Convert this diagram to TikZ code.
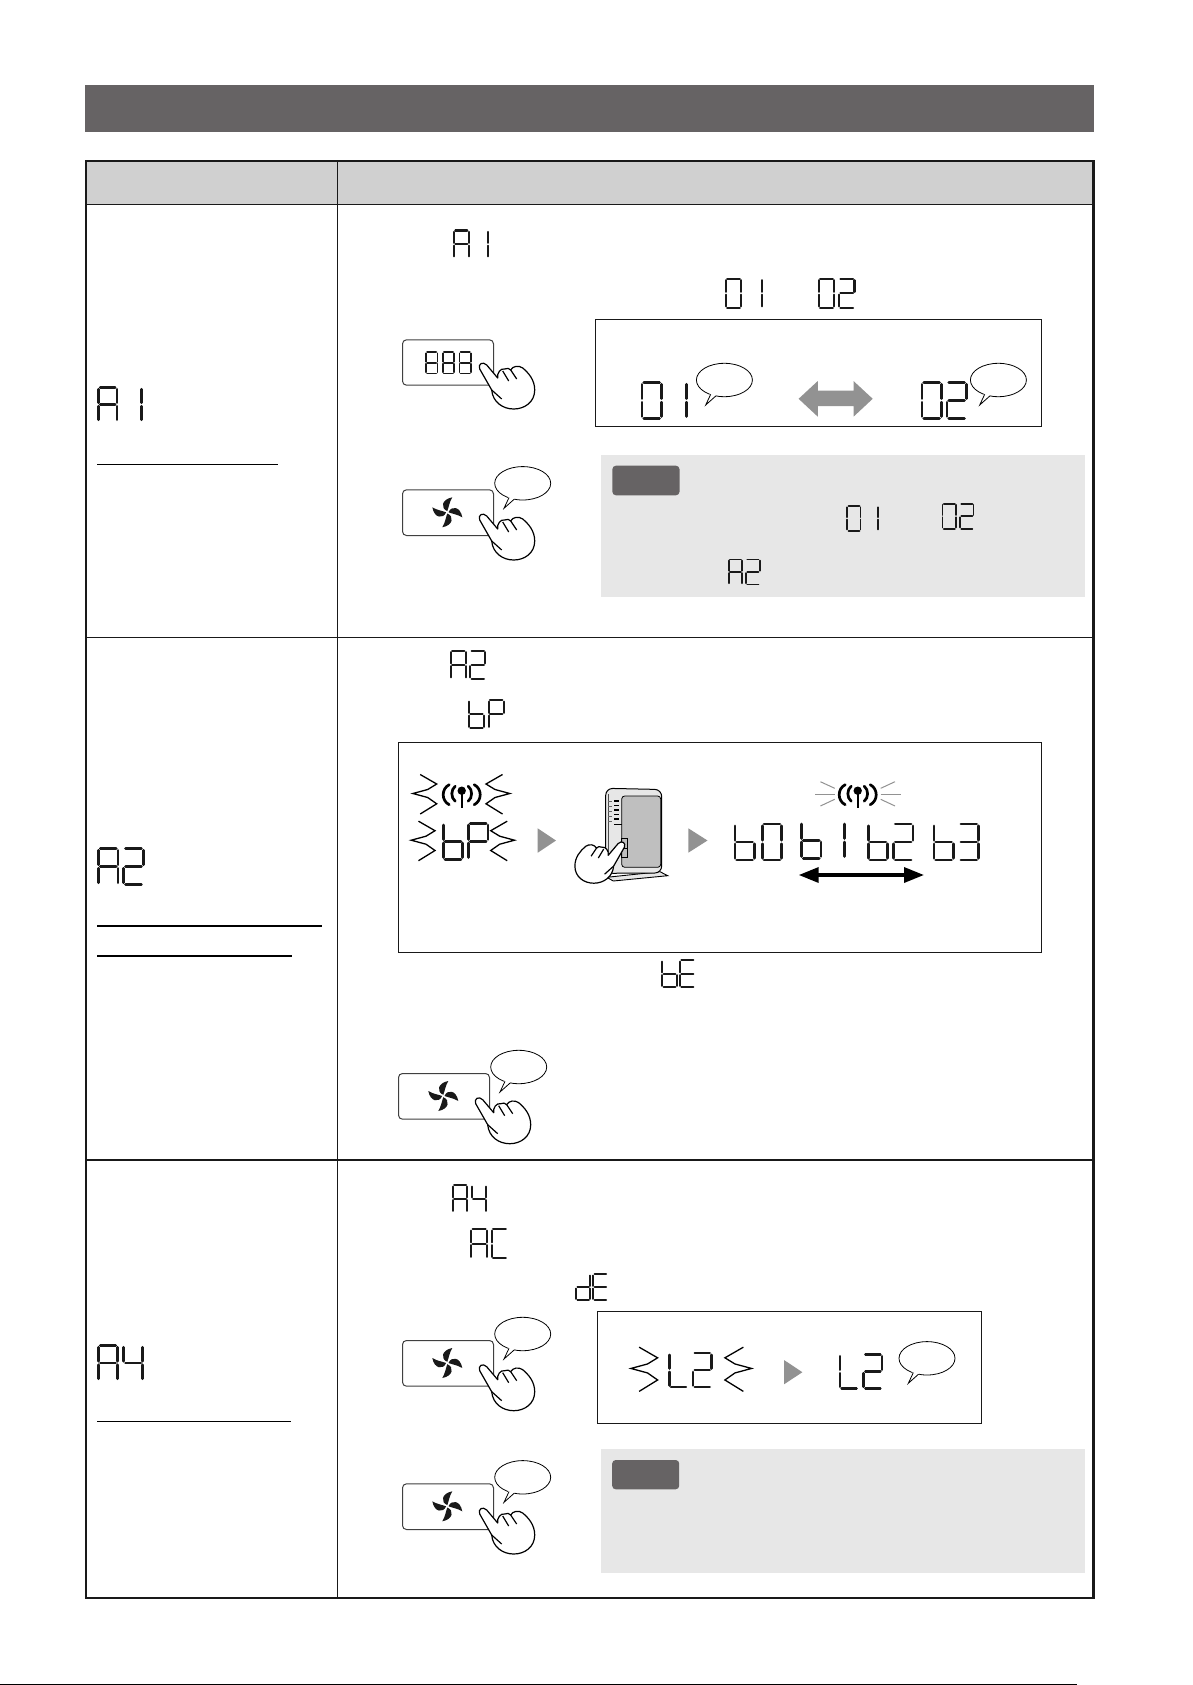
\documentclass[tikz,border=0pt]{standalone}
\usepackage{tikz}
\usetikzlibrary{arrows.meta,shapes.geometric}

% seven segment read-out, height in px
\newcommand{\lcdsa}{\draw (0.05,1) -- (0.49,1);}
\newcommand{\lcdsb}{\draw (0.54,0.95) -- (0.54,0.55);}
\newcommand{\lcdsc}{\draw (0.54,0.45) -- (0.54,0.05);}
\newcommand{\lcdsd}{\draw (0.05,0) -- (0.49,0);}
\newcommand{\lcdse}{\draw (0,0.45) -- (0,0.05);}
\newcommand{\lcdsf}{\draw (0,0.95) -- (0,0.55);}
\newcommand{\lcdsg}{\draw (0.05,0.5) -- (0.49,0.5);}
\expandafter\def\csname lcdchar0\endcsname{\lcdsa\lcdsb\lcdsc\lcdsd\lcdse\lcdsf}
\expandafter\def\csname lcdchar1\endcsname{\lcdsb\lcdsc}
\expandafter\def\csname lcdchar2\endcsname{\lcdsa\lcdsb\lcdsd\lcdse\lcdsg}
\expandafter\def\csname lcdchar3\endcsname{\lcdsa\lcdsb\lcdsc\lcdsd\lcdsg}
\expandafter\def\csname lcdchar4\endcsname{\lcdsb\lcdsc\lcdsf\lcdsg}
\expandafter\def\csname lcdchar8\endcsname{\lcdsa\lcdsb\lcdsc\lcdsd\lcdse\lcdsf\lcdsg}
\expandafter\def\csname lcdcharA\endcsname{\lcdsa\lcdsb\lcdsc\lcdse\lcdsf\lcdsg}
\expandafter\def\csname lcdcharC\endcsname{\lcdsa\lcdsd\lcdse\lcdsf}
\expandafter\def\csname lcdcharE\endcsname{\lcdsa\lcdsd\lcdse\lcdsf\lcdsg}
\expandafter\def\csname lcdcharL\endcsname{\lcdsd\lcdse\lcdsf}
\expandafter\def\csname lcdcharP\endcsname{\lcdsa\lcdsb\lcdse\lcdsf\lcdsg}
\expandafter\def\csname lcdcharb\endcsname{\lcdsc\lcdsd\lcdse\lcdsf\lcdsg}
\expandafter\def\csname lcdchard\endcsname{\lcdsb\lcdsc\lcdsd\lcdse\lcdsg}
\makeatletter
\newcommand{\lcd}[3][0.7]{\tikz[x=#2pt,y=#2pt,line width=0.075*#2pt,line cap=round,black!90]{%
	\def\lcdx{0}%
	\@tfor\lcdc:=#3\do{%
		\begin{scope}[xshift=\lcdx*#2pt]\csname lcdchar\lcdc\endcsname\end{scope}%
		\pgfmathsetmacro\lcdx{\lcdx+#1}%
	}}}
\makeatother

\definecolor{barcol}{HTML}{666364}
\definecolor{headcol}{HTML}{D0D0D0}
\definecolor{notecol}{HTML}{E7E7E7}
\definecolor{arrowcol}{HTML}{929292}

\tikzset{
	pics/hand/.style={code={
		\draw [line width=1.2pt, fill=white, line join=round] (-3,5) .. controls (-5,0) and (0,-3) .. (4,1) -- (15,14) .. controls (14,9) and (18,4) .. (22,5) .. controls (24,4) and (27,4) .. (28,6) .. controls (30,2) and (36,1) .. (40,4) .. controls (46,9) and (52,16) .. (52,26) .. controls (52,38) and (42,45) .. (31,45) .. controls (20,45) and (10,38) .. (9,26) -- cycle;
		\draw [line width=1.2pt] (20,7) -- (26,17);
		\draw [line width=1.2pt] (28,6) -- (34,15);
		\draw [line width=1.2pt] (9,26) -- (19,35);
	}},
	pics/bubble/.style={code={
		\node (-oval) [ellipse, draw, line width=.8pt, fill=white, inner sep=0pt, minimum width=56pt, minimum height=33.4pt] at (0,0) {};
		\fill [white] (-7.5,14.5) -- (-18.7,25) -- (-14,13) -- cycle;
		\draw [line width=.8pt] (-8.6,16) -- (-18.7,25) -- (-13.7,14.3);
	}},
	pics/fanpress/.style={code={
		\node (-box) [draw=black!75, line width=1pt, rounded corners=4pt, anchor=north west, inner sep=0pt, minimum width=91pt, minimum height=45.7pt] at (0,0) {};
		\foreach \a in {0,90,180,270}
			\fill [shift={(45.3,23)}, rotate=\a, black!90] (0,-1.2) .. controls (-7,-4) and (-6,-13) .. (5,-15) .. controls (2,-10) and (1.5,-5) .. (0,-1.2);
		\pic at (120.7,-6) {bubble};
		\pic at (80.7,25.7) {hand};
	}},
	pics/antenna/.style={code={
		\fill (0,0) circle (4.2);
		\draw [line width=2.4pt] (0,0) -- (0,17.6);
		\foreach \s in {-1,1} {
			\draw [line width=2.7pt, line cap=round] (\s*12.5,-6) .. controls (\s*20.5,-2) and (\s*20.5,10) .. (\s*12.5,14);
			\draw [line width=2.7pt, line cap=round] (\s*6.5,-4.5) .. controls (\s*11,-1) and (\s*11,7) .. (\s*6.5,10.5);
		}
	}},
	pics/burst/.style={code={
		\draw [line width=1.3pt, line join=miter, miter limit=20] (-16.5,-19.5) -- (0,-10) -- (-9,-4.5) -- (-23.8,-0.5) -- (-9,3.5) -- (0,9.8) -- (-16.5,20);
	}},
	pics/glint/.style={code={
		\draw [line width=1pt, arrowcol] (0,0) -- (-20,0);
		\draw [line width=1pt, arrowcol] (0,-5.7) -- (-14.3,-12.3);
		\draw [line width=1pt, arrowcol] (0,5.3) -- (-14.3,12);
	}}
}

\begin{document}
\begin{tikzpicture}[x=1pt,y=-1pt]
	\tikzstyle{lcdtext} = [inner sep=0pt, anchor=north west];
	\tikzstyle{thinbox} = [draw=black!90, line width=1pt];
	\tikzstyle{rowline} = [draw=black!90, line width=1.1pt];
	\tikzstyle{uline} = [draw=black, line width=1.1pt];
	\tikzstyle{gotri} = [fill=arrowcol];
	\tikzstyle{notetag} = [fill=barcol, rounded corners=3.5pt];
	\useasboundingbox (0,0) rectangle (1192,1685);
	\fill [white] (0,0) rectangle (1192,1685);

	% title bar and table
	\fill [barcol] (85,85) rectangle (1094,131.7);
	\fill [headcol] (86,160.7) rectangle (1093.4,204.3);
	\draw [rowline] (86,204.3) -- (1093.4,204.3);
	\draw [rowline] (86,637.5) -- (1093.4,637.5);
	\draw [rowline] (86,1160) -- (1093.4,1160);
	\draw [rowline] (337.4,160.7) -- (337.4,1597.7);
	\draw [line width=2.2pt, draw=black!90] (86,160.7) rectangle (1093.4,1597.7);
	\draw [line width=1.5pt] (0,1684.3) -- (1077,1684.3);

	% left column
	\node (bigone) [lcdtext] at (97,386) {\lcd[0.72]{34}{A1}};
	\node (bigtwo) [lcdtext] at (97,847) {\lcd{36}{A2}};
	\node (bigfour) [lcdtext] at (97,1344) {\lcd[0.72]{35}{A4}};
	\draw [uline] (97,464.5) -- (278,464.5);
	\draw [uline] (97,926) -- (321.5,926);
	\draw [uline] (97,956) -- (292,956);
	\draw [uline] (97,1421.5) -- (291,1421.5);

	% first row
	\node (lineone) [lcdtext] at (452.7,229.3) {\lcd[0.7]{27.3}{A1}};
	\node (linezero) [lcdtext] at (724.4,277.5) {\lcd{29}{01}};
	\node (linetwo) [lcdtext] at (817.3,277.5) {\lcd{29}{02}};
	\node (numbtn) [draw=black!75, line width=1pt, rounded corners=4pt, anchor=north west, inner sep=0pt, minimum width=91pt, minimum height=45.4pt] at (402,339.3) {};
	\node (numtext) [lcdtext] at (425,351.3) {\lcd[0.8]{21}{888}};
	\pic at (482.7,364) {hand};
	\pic (fanone) at (402,489.3) {fanpress};
	\draw [thinbox] (595.2,319.3) rectangle (1041.7,426.7);
	\node (showone) [lcdtext] at (640.5,381) {\lcd{35.7}{01}};
	\node (showtwo) [lcdtext] at (920.4,381) {\lcd{35.7}{02}};
	\pic at (724.4,380) {bubble};
	\pic at (998.4,380) {bubble};
	\fill [arrowcol] (798.6,398.8) -- (817.8,381) -- (817.8,390.7) -- (853.5,390.7) -- (853.5,381) -- (872.7,398.8) -- (853.5,416.7) -- (853.5,406) -- (817.8,406) -- (817.8,416.7) -- cycle;
	\fill [notecol] (601,455) rectangle (1084.7,596.7);
	\fill [notetag] (612.4,465.7) rectangle (679.5,495.3);
	\node (noteone) [lcdtext] at (846.2,505) {\lcd{24.5}{01}};
	\node (notetwo) [lcdtext] at (941.4,502.5) {\lcd{25}{02}};
	\node (noteA) [lcdtext] at (727.5,558.3) {\lcd{25}{A2}};

	% second row
	\node (linewifi) [lcdtext] at (449.4,649.5) {\lcd{28}{A2}};
	\node (linebp) [lcdtext] at (467.7,699) {\lcd{28}{bP}};
	\draw [thinbox] (398.6,742.7) rectangle (1041.8,952.3);
	\pic at (461.7,790.7) {antenna};
	\pic at (436.7,794) {burst};
	\pic [xscale=-1] at (486,794) {burst};
	\node (pairbp) [lcdtext] at (441.7,821.7) {\lcd{36}{bP}};
	\pic at (435,840.7) {burst};
	\pic [xscale=-1] at (490.7,840.7) {burst};
	\fill [gotri] (537.7,828.3) -- (556,840.5) -- (537.7,852.7) -- cycle;
	\fill [gotri] (688.3,828.3) -- (707.5,840.5) -- (688.3,852.7) -- cycle;
	% router
	\draw [line width=.9pt, fill=notecol] (606.7,877.3) -- (660,871.7) -- (667.7,875.7) -- (613.3,881) -- cycle;
	\draw [line width=1pt, fill=notecol, rounded corners=7pt] (605.7,873.3) -- (605.7,788.3) -- (661.7,789.5) -- (661.7,873) -- cycle;
	\draw [line width=.6pt, black!70] (608.3,794) -- (608.3,870);
	\draw [line width=.8pt, fill=black!25, rounded corners=3pt] (621.7,796) rectangle (660.7,867.3);
	\foreach \y in {801,805.7,810,814.3,819} \draw [line width=1.4pt] (614,\y) -- (619.3,\y);
	\draw [line width=1.6pt] (614,824.3) -- (621.7,824.3);
	\foreach \y in {801,806,811,816,821} \draw [line width=.7pt, black!60] (608.3,\y) -- (611.7,\y);
	\draw [line width=.7pt] (621.7,838.3) rectangle (627.3,848.3);
	\draw [line width=.7pt] (621.7,848.3) rectangle (627.3,857);
	\pic [xscale=-.9,yscale=.9] at (621.7,842.7) {hand};
	\pic at (857.7,790.7) {antenna};
	\pic at (834.7,794) {glint};
	\pic [xscale=-1] at (880.7,794) {glint};
	\node (chanzero) [lcdtext] at (733.3,822.5) {\lcd[0.76]{36}{b0}};
	\node (chanone) [lcdtext] at (800,822.5) {\lcd[0.66]{36}{b1}};
	\node (chantwo) [lcdtext] at (866.7,822.5) {\lcd{36}{b2}};
	\node (chanthree) [lcdtext] at (932.3,822.5) {\lcd{36}{b3}};
	\coordinate (chanleft) at (798.7,875);
	\coordinate (chanright) at (924,875);
	\draw [line width=3.4pt,<->,>={Triangle[length=20pt,width=15pt]}] (chanleft) -- (chanright);
	\node (lineerr) [lcdtext] at (661,959) {\lcd[0.66]{27}{bE}};
	\pic (fantwo) at (398,1073) {fanpress};

	% third row
	\node (linefour) [lcdtext] at (451.6,1184) {\lcd{27}{A4}};
	\node (lineac) [lcdtext] at (470,1228) {\lcd{29}{AC}};
	\node (linede) [lcdtext] at (575,1273) {\lcd[0.66]{26}{dE}};
	\pic (fanthree) at (402,1340) {fanpress};
	\pic (fanfour) at (402,1483.3) {fanpress};
	\draw [thinbox] (597.6,1311.7) rectangle (981.2,1423.3);
	\pic [scale=1.12] at (657.6,1369) {burst};
	\node (showlevel) [lcdtext] at (667.8,1351.7) {\lcd{34}{L2}};
	\pic [xscale=-1.12,yscale=1.12] at (724.9,1369) {burst};
	\fill [gotri] (784,1360) -- (802.4,1372.2) -- (784,1384.3) -- cycle;
	\node (donelevel) [lcdtext] at (838.4,1353) {\lcd{34}{L2}};
	\pic at (927,1358.3) {bubble};
	\fill [notecol] (600.8,1449) rectangle (1084.7,1573);
	\fill [notetag] (612.2,1460) rectangle (679.2,1489.3);
\end{tikzpicture}
\end{document}
